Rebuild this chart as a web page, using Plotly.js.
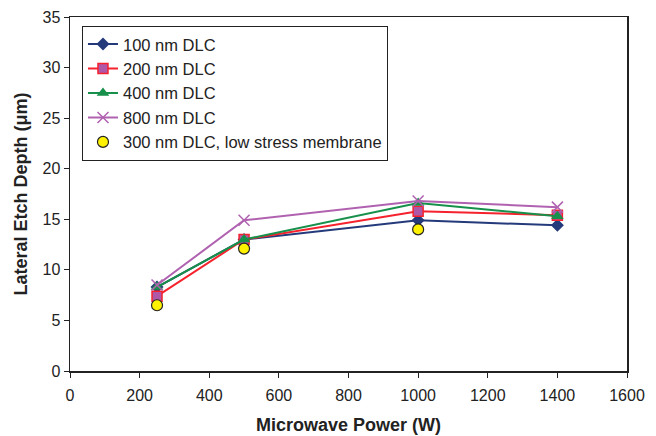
<!DOCTYPE html>
<html><head><meta charset="utf-8">
<script src="https://cdn.plot.ly/plotly-3.0.1.min.js"></script>
<style>body{margin:0;background:#fff}#c{width:656px;height:436px}</style>
</head><body><div id="c"></div>
<script>
var power = [250, 500, 1000, 1400];
var dlc100 = [8.3, 13.0, 14.9, 14.4];
var dlc200 = [7.4, 13.0, 15.8, 15.4];
var dlc400 = [8.3, 13.0, 16.6, 15.3];
var dlc800 = [8.5, 14.9, 16.8, 16.2];
var lowStress = [6.5, 12.1, 14.0];
var lowStressPower = [250, 500, 1000];
var names = ["100 nm DLC", "200 nm DLC", "400 nm DLC", "800 nm DLC", "300 nm DLC, low stress membrane"];

var traces = [
  {x: power, y: dlc100, name: names[0], mode: "lines+markers",
   line: {color: "#243A7A", width: 2}, marker: {symbol: "diamond", size: 10, color: "#243A7A"}},
  {x: power, y: dlc200, name: names[1], mode: "lines+markers",
   line: {color: "#F5222D", width: 2}, marker: {symbol: "square", size: 10, color: "#B058A8", line: {color: "#F5222D", width: 1.5}}},
  {x: power, y: dlc400, name: names[2], mode: "lines+markers",
   line: {color: "#16904A", width: 2}, marker: {symbol: "triangle-up", size: 11, color: "#16904A"}},
  {x: power, y: dlc800, name: names[3], mode: "lines+markers",
   line: {color: "#B062B0", width: 2}, marker: {symbol: "x-thin", size: 11, line: {color: "#B062B0", width: 1.5}}},
  {x: lowStressPower, y: lowStress, name: names[4], mode: "markers",
   marker: {symbol: "circle", size: 11, color: "#FFF200", line: {color: "#222", width: 1.2}}}
];

var layout = {
  width: 656, height: 436,
  margin: {l: 70, r: 29, t: 17, b: 65},
  paper_bgcolor: "#fff", plot_bgcolor: "#fff",
  font: {family: "Liberation Sans, Arial, sans-serif", size: 16, color: "#222"},
  showlegend: true,
  legend: {x: 0.0215, y: 0.975, xanchor: "left", yanchor: "top",
           bgcolor: "#fff", bordercolor: "#222", borderwidth: 1,
           font: {size: 16.5, color: "#222"}, tracegroupgap: 0, itemwidth: 30},
  xaxis: {range: [0, 1600], dtick: 200, showgrid: false, zeroline: false,
          showline: true, linecolor: "#222", linewidth: 1.5, mirror: true,
          ticks: "outside", ticklen: 5, tickcolor: "#222", ticklabelstandoff: 4,
          tickfont: {size: 16, color: "#222"},
          title: {text: "Microwave Power (W)", font: {size: 18, color: "#222", weight: "bold"}, standoff: 15}},
  yaxis: {range: [0, 35], dtick: 5, showgrid: false, zeroline: false,
          showline: true, linecolor: "#222", linewidth: 1.5, mirror: true,
          ticks: "outside", ticklen: 5, tickcolor: "#222",
          tickfont: {size: 16, color: "#222"},
          title: {text: "Lateral Etch Depth (μm)", font: {size: 18, color: "#222", weight: "bold"}, standoff: 10}}
};
Plotly.newPlot("c", traces, layout, {displayModeBar: false, staticPlot: true});
</script></body></html>
